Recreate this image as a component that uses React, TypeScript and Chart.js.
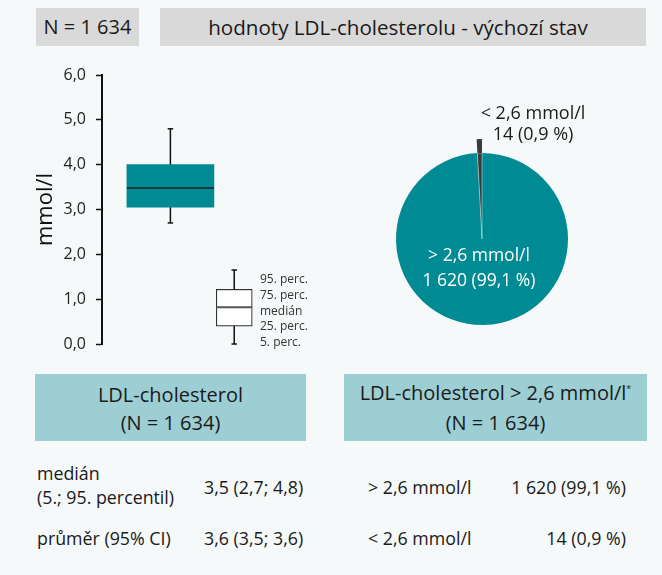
import React, { useEffect, useRef } from 'react';
import { Chart, registerables } from 'chart.js';

Chart.register(...registerables);

// ---- data ----
const yTickValues = [0, 1, 2, 3, 4, 5, 6];
// p5, q1, median, q3, p95 (mmol/l)
const ldlBoxStats = [2.7, 3.05, 3.48, 4.0, 4.8];
// schematic key box: p5, q1, median, q3, p95
const keyBoxStats = [0.0, 0.4, 0.82, 1.22, 1.65];
const keyLabels = ['95. perc.', '75. perc.', 'medián', '25. perc.', '5. perc.'];
const pieCategories = ['> 2,6 mmol/l', '< 2,6 mmol/l'];
const pieCounts = [1620, 14];
const pieCountLabels = ['1 620 (99,1 %)', '14 (0,9 %)'];
const tableLeftRows = [
  ['medián\n(5.; 95. percentil)', '3,5 (2,7; 4,8)'],
  ['průměr (95% CI)', '3,6 (3,5; 3,6)'],
];

// ---- styles ----
const FONT = "'Open Sans', 'Noto Sans', sans-serif";
const TEAL = '#008a93';
const DARK = '#3a3a3a';
const BG = '#f5f9f9';
const HEADER_GRAY = '#d9d9d9';
const LIGHT_TEAL = '#9dced4';
const TEXT = '#1a1a1a';

// x-unit geometry of the box chart (10 units over a 228 px wide plot)
const PX_PER_UNIT = 22.8;
const MAIN_X = 3.0;
const MAIN_W_PX = 87;
const KEY_X = 5.8;
const KEY_W_PX = 36;
const CAP_HALF = 0.12;

function boxDatasets(stats: number[], x: number, widthPx: number, fill: string, border: string, borderW: number, medianColor: string) {
  const half = widthPx / 2 / PX_PER_UNIT;
  const line = (pts: { x: number; y: number }[], color: string, w: number) => ({
    type: 'line' as const,
    data: pts,
    borderColor: color,
    borderWidth: w,
    pointRadius: 0,
    pointHoverRadius: 0,
    fill: false,
    clip: false as any,
    order: 1,
  });
  return [
    {
      type: 'bar' as const,
      data: [{ x, y: [stats[1], stats[3]] }],
      backgroundColor: fill,
      borderColor: border,
      borderWidth: borderW,
      borderSkipped: false,
      barThickness: widthPx,
      stack: 'box',
      order: 2,
    },
    line([{ x, y: stats[0] }, { x, y: stats[1] }], '#111', 1.5),
    line([{ x, y: stats[3] }, { x, y: stats[4] }], '#111', 1.5),
    line([{ x: x - CAP_HALF, y: stats[0] }, { x: x + CAP_HALF, y: stats[0] }], '#111', 1.5),
    line([{ x: x - CAP_HALF, y: stats[4] }, { x: x + CAP_HALF, y: stats[4] }], '#111', 1.5),
    line([{ x: x - half, y: stats[2] }, { x: x + half, y: stats[2] }], medianColor, 2),
  ];
}

function BoxChart() {
  const ref = useRef<HTMLCanvasElement>(null);
  useEffect(() => {
    const chart = new Chart(ref.current!, {
      type: 'bar',
      data: {
        datasets: [
          ...boxDatasets(ldlBoxStats, MAIN_X, MAIN_W_PX, TEAL, TEAL, 0, '#15393b'),
          ...boxDatasets(keyBoxStats, KEY_X, KEY_W_PX, '#ffffff', '#333333', 1.2, '#555555'),
        ] as any,
      },
      options: {
        animation: false,
        responsive: false,
        devicePixelRatio: 1,
        events: [],
        layout: { padding: { top: 15, bottom: 16, left: 0, right: 0 } },
        plugins: { legend: { display: false }, tooltip: { enabled: false } },
        scales: {
          x: { type: 'linear', display: false, min: 0, max: 10, offset: false },
          y: {
            type: 'linear',
            min: 0,
            max: 6,
            stacked: false,
            afterFit: (scale: any) => {
              scale.width = 102;
              scale.paddingTop = 0;
              scale.paddingBottom = 0;
            },
            afterBuildTicks: (scale: any) => {
              scale.ticks = yTickValues.map((v) => ({ value: v }));
            },
            ticks: {
              padding: 10,
              color: '#222',
              font: { family: FONT, size: 16 },
              callback: (v: any) => Number(v).toFixed(1).replace('.', ','),
            },
            grid: {
              drawOnChartArea: false,
              drawTicks: true,
              tickLength: 6,
              tickColor: '#111',
              tickWidth: 1.5,
              color: '#111',
            },
            border: { display: true, color: '#111', width: 2 },
            title: {
              display: true,
              text: 'mmol/l',
              color: '#111',
              font: { family: FONT, size: 22 },
              padding: { top: 33, bottom: 0 },
            },
          },
        },
      } as any,
    });
    return () => chart.destroy();
  }, []);
  return <canvas ref={ref} width={330} height={300} style={{ position: 'absolute', left: 0, top: 60, width: 330, height: 300 }} />;
}

function PieChart() {
  const ref = useRef<HTMLCanvasElement>(null);
  useEffect(() => {
    const chart = new Chart(ref.current!, {
      type: 'pie',
      data: {
        labels: pieCategories,
        datasets: [
          { data: pieCounts, backgroundColor: ['rgba(0,0,0,0)', DARK], borderWidth: 0, weight: 14 },
          {
            data: pieCounts,
            backgroundColor: [TEAL, DARK],
            borderWidth: [0, 0.8],
            borderColor: 'rgba(255,255,255,0.55)',
            weight: 86,
          },
        ],
      },
      options: {
        animation: false,
        responsive: false,
        devicePixelRatio: 1,
        events: [],
        layout: { padding: 0 },
        plugins: { legend: { display: false }, tooltip: { enabled: false } },
      } as any,
    });
    return () => chart.destroy();
  }, []);
  return <canvas ref={ref} width={200} height={200} style={{ position: 'absolute', left: 382, top: 139, width: 200, height: 200 }} />;
}

const abs = (s: React.CSSProperties): React.CSSProperties => ({ position: 'absolute', ...s });
const ROW_FONT = 17.8;

export default function App() {
  return (
    <div
      style={{
        position: 'absolute',
        left: 0,
        top: 0,
        width: 662,
        height: 575,
        background: BG,
        fontFamily: FONT,
        color: TEXT,
        overflow: 'hidden',
      }}
    >
      {/* header */}
      <div style={abs({ left: 36, top: 8, width: 103, height: 38, background: HEADER_GRAY, fontSize: 20, lineHeight: '38px', textAlign: 'center' })}>
        N = 1 634
      </div>
      <div style={abs({ left: 160, top: 8, width: 486, height: 38, background: HEADER_GRAY })} />
      <div style={abs({ left: 160, top: 8, width: 476, height: 38, fontSize: 20.6, lineHeight: '38px', textAlign: 'center', whiteSpace: 'nowrap' })}>
        hodnoty LDL-cholesterolu - výchozí stav
      </div>

      <BoxChart />
      <PieChart />

      {/* key labels */}
      <div style={abs({ left: 260, top: 271, fontSize: 12, lineHeight: '15.8px', color: '#333', whiteSpace: 'pre' })}>
        {keyLabels.join('\n')}
      </div>

      {/* pie labels */}
      <div style={abs({ left: 468, top: 102, width: 130, fontSize: 18, lineHeight: '20.5px', textAlign: 'center', whiteSpace: 'pre' })}>
        {pieCategories[1] + '\n' + pieCountLabels[1]}
      </div>
      <div style={abs({ left: 414, top: 242, width: 130, fontSize: 17.5, lineHeight: '25px', textAlign: 'center', color: '#ffffff', whiteSpace: 'pre' })}>
        {pieCategories[0] + '\n' + pieCountLabels[0]}
      </div>

      {/* table headers */}
      <div style={abs({ left: 35, top: 374, width: 271, height: 67, background: LIGHT_TEAL, fontSize: 20, lineHeight: '28px', paddingTop: 7, boxSizing: 'border-box', textAlign: 'center' })}>
        LDL-cholesterol
        <br />
        (N = 1 634)
      </div>
      <div style={abs({ left: 344, top: 374, width: 303, height: 67, background: LIGHT_TEAL, fontSize: 20, lineHeight: '28px', paddingTop: 5, boxSizing: 'border-box', textAlign: 'center' })}>
        LDL-cholesterol &gt; 2,6 mmol/l<sup style={{ fontSize: 9, verticalAlign: 'top', lineHeight: '20px' }}>*</sup>
        <br />
        <span style={{ position: 'relative', top: 2 }}>(N = 1 634)</span>
      </div>

      {/* table rows */}
      <div style={abs({ left: 37, top: 461, fontSize: ROW_FONT, lineHeight: '24px', whiteSpace: 'pre' })}>{tableLeftRows[0][0]}</div>
      <div style={abs({ left: 204, top: 475, fontSize: ROW_FONT, lineHeight: '24px', whiteSpace: 'pre' })}>{tableLeftRows[0][1]}</div>
      <div style={abs({ left: 37, top: 526, fontSize: ROW_FONT, lineHeight: '24px', whiteSpace: 'pre' })}>{tableLeftRows[1][0]}</div>
      <div style={abs({ left: 204, top: 526, fontSize: ROW_FONT, lineHeight: '24px', whiteSpace: 'pre' })}>{tableLeftRows[1][1]}</div>

      <div style={abs({ left: 368, top: 475, fontSize: ROW_FONT, lineHeight: '24px', whiteSpace: 'pre' })}>{pieCategories[0]}</div>
      <div style={abs({ right: 36, top: 475, fontSize: ROW_FONT, lineHeight: '24px', whiteSpace: 'pre', textAlign: 'right' })}>{pieCountLabels[0]}</div>
      <div style={abs({ left: 368, top: 526, fontSize: ROW_FONT, lineHeight: '24px', whiteSpace: 'pre' })}>{pieCategories[1]}</div>
      <div style={abs({ right: 36, top: 526, fontSize: ROW_FONT, lineHeight: '24px', whiteSpace: 'pre', textAlign: 'right' })}>{pieCountLabels[1]}</div>
    </div>
  );
}
